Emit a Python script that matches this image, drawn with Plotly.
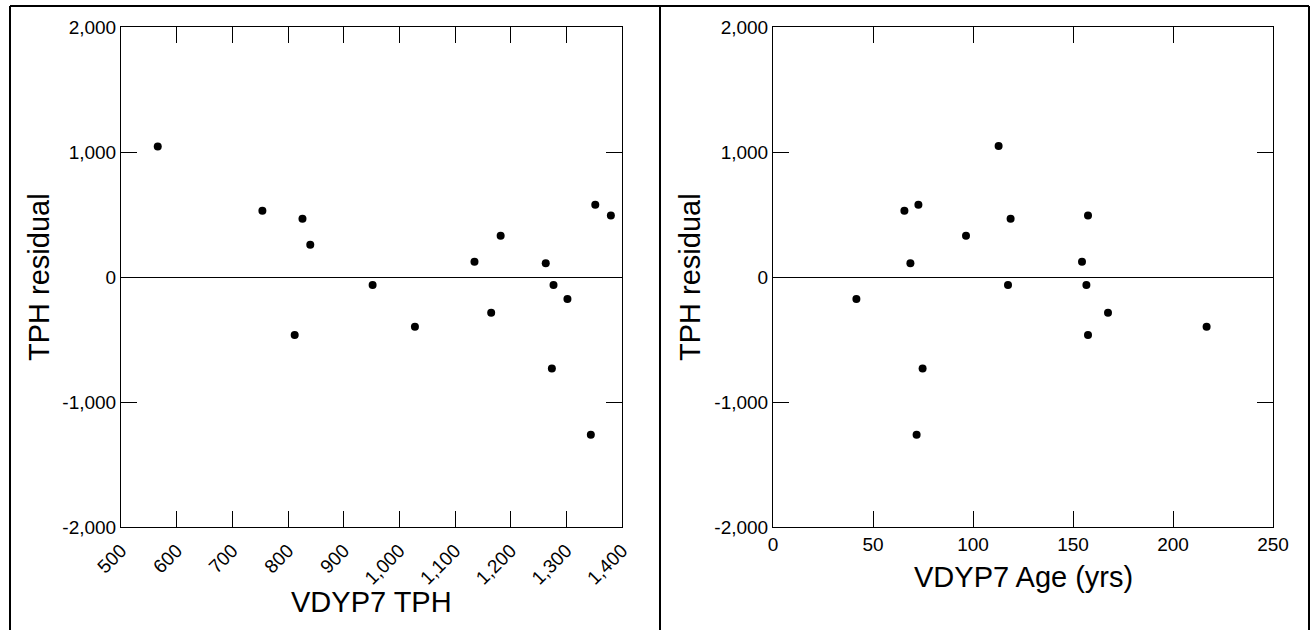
import plotly.graph_objects as go

# ---- data ----
tph_x = [566, 754, 826, 840, 812, 952, 1028, 1135, 1165, 1182, 1263, 1274, 1277, 1302, 1344, 1352, 1380]
tph_resid = [1045, 530, 466, 258, -464, -64, -397, 122, -286, 330, 110, -731, -64, -176, -1262, 578, 493]

age_x = [65.7, 72.7, 68.7, 96.5, 41.7, 112.8, 118.8, 157.5, 154.5, 117.5, 156.7, 167.5, 157.5, 216.8, 74.8, 71.8]
age_resid = [530, 578, 110, 330, -176, 1048, 466, 493, 122, -64, -64, -286, -464, -397, -731, -1262]

tph_ticks = [500, 600, 700, 800, 900, 1000, 1100, 1200, 1300, 1400]
age_ticks = [0, 50, 100, 150, 200, 250]
resid_ticks = [-2000, -1000, 0, 1000, 2000]


def lab(v):
    return f"{v:,}"  # plain hyphen minus, comma thousands


W, H = 1312, 630
FONT = "Arial, Liberation Sans, sans-serif"


def px(x):
    return x / W


def py(y):
    return 1 - y / H


fig = go.Figure()
fig.add_trace(go.Scatter(x=tph_x, y=tph_resid, mode="markers",
                         marker=dict(size=8, color="black"), xaxis="x", yaxis="y"))
fig.add_trace(go.Scatter(x=age_x, y=age_resid, mode="markers",
                         marker=dict(size=8, color="black"), xaxis="x2", yaxis="y2"))

common_axis = dict(showline=True, linecolor="black", linewidth=1, mirror="ticks",
                   ticks="inside", ticklen=16, tickwidth=1, tickcolor="black",
                   showgrid=False, automargin=False, tickmode="array",
                   tickfont=dict(family=FONT, size=19, color="black"))

fig.update_layout(
    template="none",
    width=W, height=H, showlegend=False,
    margin=dict(l=0, r=0, t=0, b=0, pad=0),
    paper_bgcolor="white", plot_bgcolor="white",
    xaxis=dict(domain=[px(121), px(622)], range=[500, 1400], tickvals=tph_ticks,
               ticktext=[lab(v) for v in tph_ticks], tickangle=-45, ticklabelstandoff=4,
               zeroline=False, anchor="y", **common_axis),
    yaxis=dict(domain=[py(527), py(27)], range=[-2000, 2000], tickvals=resid_ticks,
               ticktext=[lab(v) for v in resid_ticks],
               zeroline=True, zerolinecolor="black", zerolinewidth=1,
               anchor="x", **common_axis),
    xaxis2=dict(domain=[px(773), px(1273)], range=[0, 250], tickvals=age_ticks,
                ticktext=[lab(v) for v in age_ticks], tickangle=0,
                zeroline=False, anchor="y2", **common_axis),
    yaxis2=dict(domain=[py(527), py(27)], range=[-2000, 2000], tickvals=resid_ticks,
                ticktext=[lab(v) for v in resid_ticks],
                zeroline=True, zerolinecolor="black", zerolinewidth=1,
                anchor="x2", **common_axis),
)

title_font = dict(family=FONT, size=29, color="black")
annos = [
    dict(text="VDYP7 TPH", x=px(371.5), y=py(602), textangle=0),
    dict(text="VDYP7 Age (yrs)", x=px(1023), y=py(577), textangle=0),
    dict(text="TPH residual", x=px(39), y=py(277), textangle=-90),
    dict(text="TPH residual", x=px(690), y=py(277), textangle=-90),
]
for a in annos:
    fig.add_annotation(xref="paper", yref="paper", showarrow=False,
                       xanchor="center", yanchor="middle", font=title_font, **a)

# outer frame lines
frame = [
    (10, 6, 1309, 6),
    (10, 6, 10, 632),
    (1309, 6, 1309, 632),
    (660, 6, 660, 632),
]
for x0, y0, x1, y1 in frame:
    fig.add_shape(type="line", xref="paper", yref="paper",
                  x0=px(x0), y0=py(y0), x1=px(x1), y1=py(y1),
                  line=dict(color="black", width=2))

fig.write_html("out.html")
